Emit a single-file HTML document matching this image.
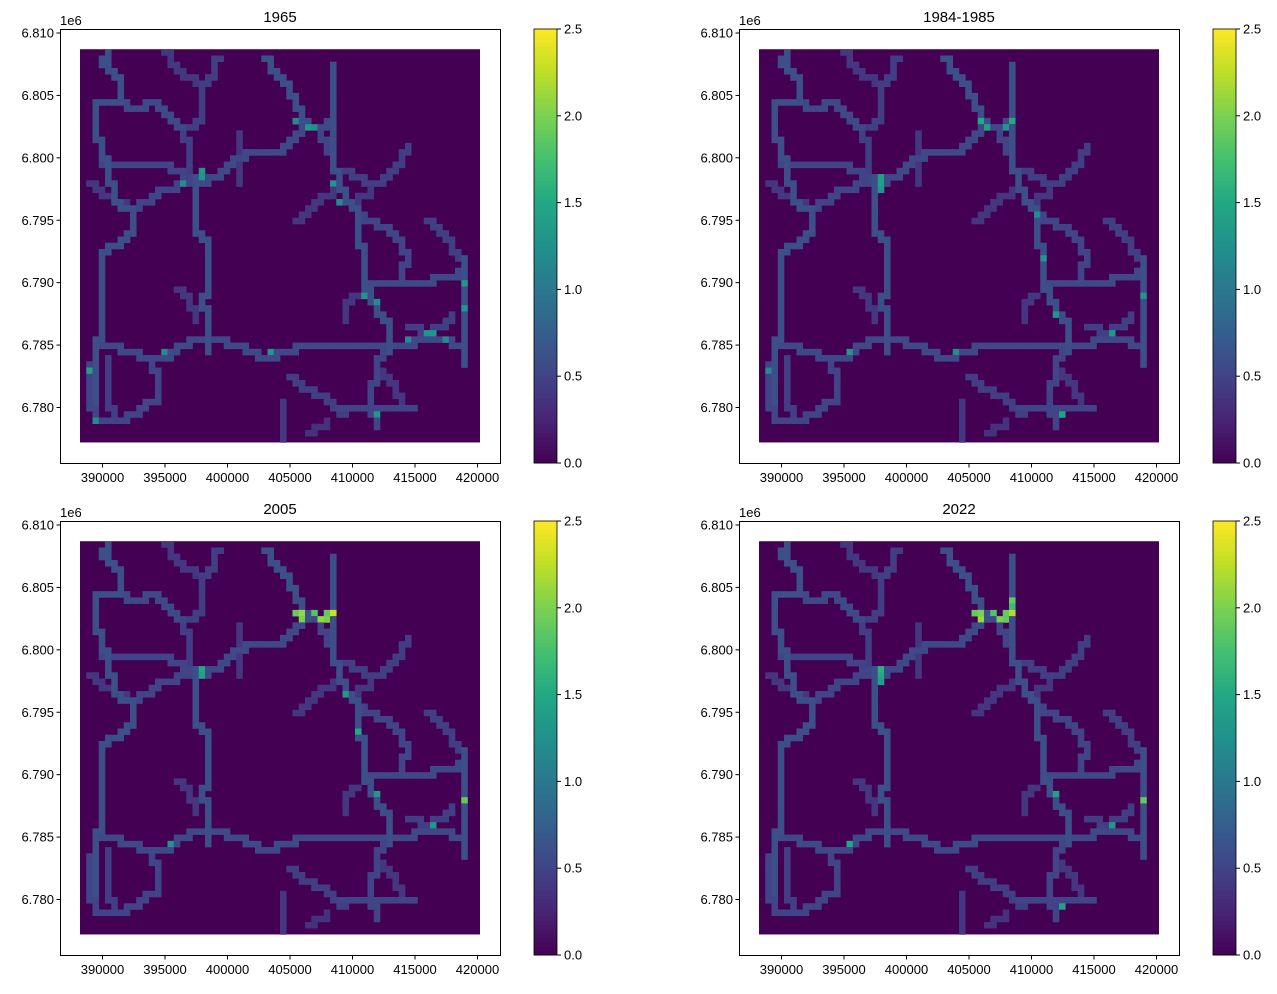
<!DOCTYPE html>
<html><head><meta charset="utf-8"><style>
body{margin:0;background:#fff;}
svg text{font-family:"Liberation Sans",sans-serif;fill:#000;}
</style></head><body>
<svg id="fig" width="1277" height="989" xmlns="http://www.w3.org/2000/svg"></svg>
<script>
// ---- data ----
const panelTitles = ["1965","1984-1985","2005","2022"];
const xTicks = [390000,395000,400000,405000,410000,415000,420000];
const yTicks = [6780000,6785000,6790000,6795000,6800000,6805000,6810000];
const yTickLabels = ["6.780","6.785","6.790","6.795","6.800","6.805","6.810"];
const cbTicks = [0,0.5,1.0,1.5,2.0,2.5];
const cbTickLabels = ["0.0","0.5","1.0","1.5","2.0","2.5"];
// road polylines in grid cell coordinates [col,row] (500 m cells)
const roads = [
 [[4,0],[3,2],[5,4],[6,6],[6,8],[2,8],[2,13],[3,17],[4,19],[5,24],[8,26],[8,29],[6,31],[3,32],[3,45],[2,48],[2,56]],
 [[3,18],[13,18],[18,21]],
 [[18,21],[22,19],[24,17],[26,16],[30,16],[32,15],[34,13],[35,12],[37,12],[39,11]],
 [[18,20],[18,29],[20,30],[20,38],[19,40],[20,43],[20,48]],
 [[17,19],[17,15],[16,12],[19,11],[19,5],[21,3],[21,1],[22,1]],
 [[16,12],[14,10],[12,8],[9,9],[6,8]],
 [[13,0],[15,3],[18,5],[20,5]],
 [[8,25],[12,22],[16,21],[18,21]],
 [[1,21],[5,24],[8,25]],
 [[2,46],[4,47],[7,48],[10,49],[13,49],[15,47],[18,46],[21,46],[24,47],[27,48],[29,49],[32,48],[34,47],[39,47],[47,47],[51,47],[53,46],[57,46],[61,47]],
 [[40,2],[40,18],[41,21],[42,24],[44,26],[44,30],[45,33],[45,38],[46,40],[47,42],[49,44],[49,48]],
 [[29,1],[31,4],[33,6],[34,9],[35,11],[36,12]],
 [[37,12],[38,14],[39,16],[40,18]],
 [[41,19],[46,21],[48,20],[50,18],[52,15]],
 [[46,21],[46,23],[42,24]],
 [[44,26],[48,28],[50,30],[52,33],[51,36]],
 [[45,37],[49,37],[54,37],[57,36],[61,35]],
 [[61,33],[61,50]],
 [[55,27],[58,30],[60,33]],
 [[52,44],[55,45],[59,42]],
 [[44,39],[42,41],[42,43]],
 [[48,48],[47,51],[46,55],[46,58],[47,60]],
 [[47,51],[50,54],[51,57]],
 [[41,57],[49,57],[53,57]],
 [[33,52],[35,54],[38,55],[40,57],[42,58]],
 [[32,56],[32,62]],
 [[36,61],[39,59]],
 [[1,50],[1,57],[2,59],[5,59],[9,57],[12,55],[12,52],[11,50]],
 [[4,49],[4,57],[5,59]],
 [[34,27],[37,24],[40,22]],
 [[25,13],[25,21]],
 [[15,38],[17,40],[18,43]]
];
const roadValues = [0.6,0.5,0.55,0.6,0.45,0.55,0.4,0.5,0.4,0.55,0.6,0.6,0.5,0.45,0.4,0.5,0.55,0.6,0.45,0.45,0.4,0.5,0.4,0.5,0.45,0.4,0.35,0.5,0.45,0.4,0.4,0.4];
const hot1965 = [[19,19,1.3],[19,20,1.3],[16,21,1.2],[34,11,1.2],[36,12,1.3],[37,12,1.2],[40,21,1.3],[41,24,1.2],[45,39,1.3],[47,40,1.2],[61,37,1.3],[61,41,1.3],[55,45,1.3],[56,45,1.3],[52,46,1.2],[58,46,1.2],[1,51,1.4],[2,59,1.2],[47,58,1.3],[30,48,1.3],[13,48,1.2]];
const hot1984 = [[35,11,1.5],[36,12,1.4],[40,11,1.5],[39,12,1.3],[19,20,1.4],[19,21,1.4],[19,22,1.3],[44,26,1.2],[45,33,1.3],[47,42,1.3],[56,45,1.3],[61,39,1.3],[14,48,1.3],[31,48,1.2],[48,58,1.4],[1,51,1.2]];
const hot2005 = [[34,11,1.9],[35,11,2.1],[35,12,2.0],[37,11,1.8],[38,12,2.1],[39,12,2.0],[40,11,2.3],[39,11,1.9],[61,41,1.9],[19,20,1.5],[19,21,1.4],[44,30,1.5],[42,24,1.3],[14,48,1.3],[47,40,1.3],[56,45,1.3]];
const hot2022 = [[34,11,1.9],[35,11,2.0],[35,12,2.1],[37,11,1.8],[38,12,2.0],[39,12,1.9],[40,11,2.2],[39,11,1.9],[40,9,1.9],[40,10,1.7],[61,41,1.9],[19,20,1.6],[19,21,1.5],[19,22,1.4],[14,48,1.5],[47,40,1.4],[56,45,1.3],[48,58,1.4]];
const panelHot = [hot1965,hot1984,hot2005,hot2022];

// ---- layout ----
const NC=64, NR=63, X0=388200, Y1=6808700, CELL=500;
const stops=["#440154","#482475","#414487","#355f8d","#2a788e","#21918c","#22a884","#44bf70","#7ad151","#bddf26","#fde725"];
function hex(h){return [1,3,5].map(i=>parseInt(h.substr(i,2),16));}
function viridis(v){let t=Math.max(0,Math.min(1,v/2.5))*10;let i=Math.min(9,Math.floor(t));let f=t-i;
 const a=hex(stops[i]),b=hex(stops[i+1]);return "rgb("+a.map((x,k)=>Math.round(x+(b[k]-x)*f)).join(",")+")";}
const NS="http://www.w3.org/2000/svg";
const svg=document.getElementById("fig");
function el(tag,attrs,parent){const e=document.createElementNS(NS,tag);for(const k in attrs)e.setAttribute(k,attrs[k]);(parent||svg).appendChild(e);return e;}

function drawPanel(p){
 const ox=(p%2)*679, oy=Math.floor(p/2)*492;
 const xs=v=>ox+80+(v-X0)/80;
 const ys=v=>oy+33+(6810000-v)*374.5/30000;
 const g=el("g",{});
 
 
 const grid=[];for(let r=0;r<NR;r++){grid.push(new Array(NC).fill(0));}
 roads.forEach((rd,ri)=>{for(let s=0;s<rd.length-1;s++){const [c0,r0]=rd[s],[c1,r1]=rd[s+1];
   const n=Math.max(Math.abs(c1-c0),Math.abs(r1-r0),1);let pc=null,pr=null;
   for(let i=0;i<=n;i++){const c=Math.round(c0+(c1-c0)*i/n),r=Math.round(r0+(r1-r0)*i/n);
     if(pc!==null&&pc!==c&&pr!==r){if(grid[pr]&&pc<NC)grid[pr][c]=Math.max(grid[pr][c],roadValues[ri]);}
     if(r>=0&&r<NR&&c>=0&&c<NC)grid[r][c]=Math.max(grid[r][c],roadValues[ri]);pc=c;pr=r;}}});
 panelHot[p].forEach(([c,r,v])=>{if(r<NR&&c<NC)grid[r][c]=v;});
 const hx0=xs(X0), hy0=ys(Y1), cw=(xs(X0+NC*CELL)-hx0)/NC, ch=(ys(Y1-NR*CELL)-hy0)/NR;
 const bg=el("rect",{x:hx0,y:hy0,width:cw*NC,height:ch*NR,fill:viridis(0)},g);
 
 
 for(let r=0;r<NR;r++)for(let c=0;c<NC;c++){const v=grid[r][c];if(v>0){
   const cell=el("rect",{x:(hx0+c*cw).toFixed(2),y:(hy0+r*ch).toFixed(2),width:(cw+0.3).toFixed(2),height:(ch+0.3).toFixed(2),fill:viridis(v)},g);
   
   }}
 const fr=el("rect",{x:ox+60.5,y:oy+29.5,width:440,height:434,fill:"none",stroke:"#000","stroke-width":1},g);
 
 
 xTicks.forEach(v=>{const x=xs(v);el("line",{x1:x,x2:x,y1:oy+463.5,y2:oy+467.5,stroke:"#000"},g);
   const t=el("text",{x:x,y:oy+482,"font-size":13,"text-anchor":"middle"},g);t.textContent=v;
   
   });
 yTicks.forEach((v,i)=>{const y=ys(v);el("line",{x1:ox+56.5,x2:ox+60.5,y1:y,y2:y,stroke:"#000"},g);
   const t=el("text",{x:ox+54,y:y+4.5,"font-size":13,"text-anchor":"end"},g);t.textContent=yTickLabels[i];
   
   });
 const off=el("text",{x:ox+60,y:oy+25,"font-size":13},g);off.textContent="1e6";
 
 
 const ti=el("text",{x:ox+280,y:oy+22,"font-size":15,"text-anchor":"middle"},g);ti.textContent=panelTitles[p];
 
 
 const cb=el("g",{},g);
 
 
 const cx=ox+534, ct=oy+29, cbh=434;
 for(let i=0;i<100;i++){el("rect",{x:cx,y:(ct+cbh-(i+1)*cbh/100).toFixed(2),width:23,height:(cbh/100+0.5).toFixed(2),fill:viridis((i+0.5)*0.025)},cb);}
 el("rect",{x:cx,y:ct,width:23,height:cbh,fill:"none",stroke:"#000","stroke-width":0.8},cb);
 cbTicks.forEach((v,i)=>{const y=ct+cbh-v/2.5*cbh;el("line",{x1:cx+23,x2:cx+27,y1:y,y2:y,stroke:"#000"},cb);
   const t=el("text",{x:cx+30,y:y+4.5,"font-size":13},cb);t.textContent=cbTickLabels[i];
   
   });
}
for(let p=0;p<4;p++)drawPanel(p);
</script>
</body></html>
